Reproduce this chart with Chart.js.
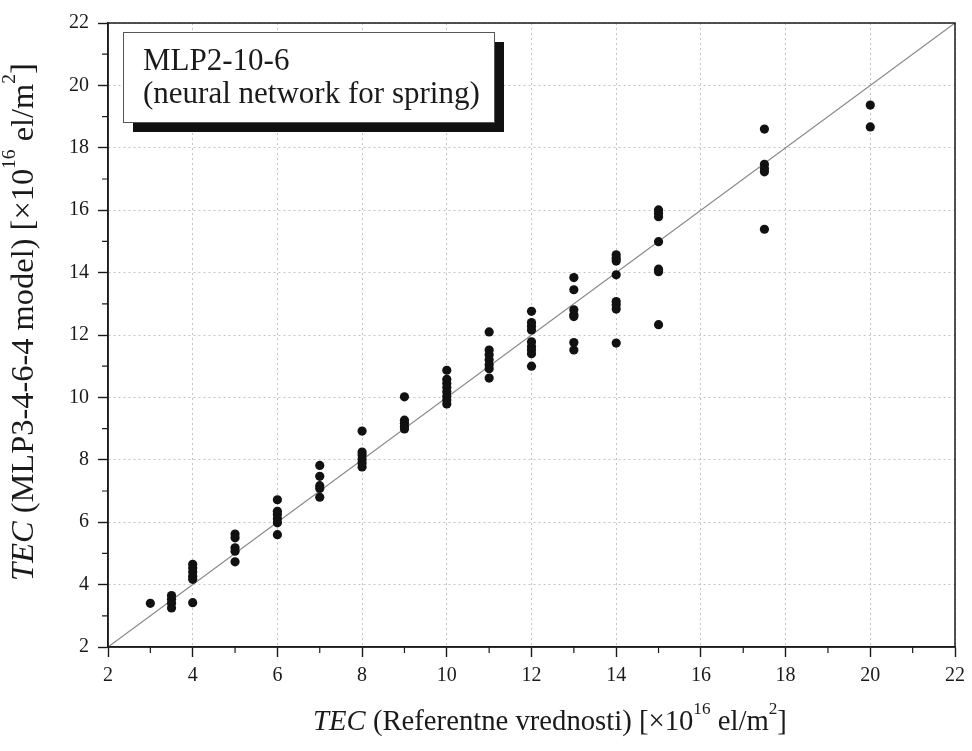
<!DOCTYPE html>
<html>
<head>
<meta charset="utf-8">
<script src="https://cdn.jsdelivr.net/npm/chart.js@4.4.1/dist/chart.umd.min.js"></script>
<style>
  html, body { margin: 0; padding: 0; background: #fff; }
  #wrap { width: 972px; height: 751px; }
</style>
</head>
<body>
<div id="wrap"><canvas id="chart" width="972" height="751"></canvas></div>
<script>
// reference TEC values (x) and model outputs at each of them (y)
const refValues = [3, 3.5, 4, 5, 6, 7, 8, 9, 10, 11, 12, 13, 14, 15, 17.5, 20];
const model3 = [3.40];
const model3_5 = [3.65, 3.53, 3.40, 3.25];
const model4 = [4.65, 4.53, 4.40, 4.27, 4.17, 3.42];
const model5 = [5.62, 5.50, 5.18, 5.07, 4.73];
const model6 = [6.72, 6.35, 6.25, 6.11, 5.98, 5.60];
const model7 = [7.82, 7.47, 7.17, 7.08, 6.80];
const model8 = [8.92, 8.25, 8.15, 8.02, 7.90, 7.77];
const model9 = [10.02, 9.27, 9.17, 9.07, 8.99];
const model10 = [10.87, 10.58, 10.45, 10.32, 10.18, 10.04, 9.92, 9.79];
const model11 = [12.10, 11.52, 11.37, 11.21, 11.05, 10.92, 10.62];
const model12 = [12.76, 12.40, 12.28, 12.16, 11.78, 11.63, 11.52, 11.40, 11.00];
const model13 = [13.84, 13.45, 12.81, 12.65, 12.59, 11.76, 11.52];
const model14 = [14.57, 14.46, 14.37, 13.93, 13.07, 12.97, 12.83, 11.74];
const model15 = [16.01, 15.90, 15.79, 14.99, 14.11, 14.03, 12.33];
const model17_5 = [18.60, 17.47, 17.34, 17.23, 15.39];
const model20 = [19.37, 18.67];
const modelValues = [model3, model3_5, model4, model5, model6, model7, model8, model9,
  model10, model11, model12, model13, model14, model15, model17_5, model20];

const idealLine = [2, 22];
const axisMin = 2, axisMax = 22, majorStep = 2;
const minorTicks = [3, 5, 7, 9, 11, 13, 15, 17, 19, 21];

const legendLines = ['MLP2-10-6', '(neural network for spring)'];
const xTitle = [{ t: 'TEC', it: true }, { t: ' (Referentne vrednosti) [×10' }, { t: '16', sup: true }, { t: ' el/m' }, { t: '2', sup: true }, { t: ']' }];
const yTitle = [{ t: 'TEC', it: true }, { t: ' (MLP3-4-6-4 model) [×10' }, { t: '16', sup: true }, { t: ' el/m' }, { t: '2', sup: true }, { t: ']' }];

const SERIF = '"Liberation Serif", "DejaVu Serif", serif';
const INK = '#1a1a1a';

const points = refValues.flatMap((x, i) => modelValues[i].map(y => ({ x, y })));

// ---- rich text helpers (italic + superscript) ----
function partFont(p, size) {
  return (p.it ? 'italic ' : '') + (p.sup ? size * 0.6 : size) + 'px ' + SERIF;
}
function richWidth(ctx, parts, size) {
  let w = 0;
  for (const p of parts) { ctx.font = partFont(p, size); w += ctx.measureText(p.t).width; }
  return w;
}
function drawRich(ctx, parts, cx, cy, targetW, rot) {
  const size = 24 * targetW / richWidth(ctx, parts, 24);
  const w = richWidth(ctx, parts, size);
  ctx.save();
  ctx.translate(cx, cy);
  if (rot) ctx.rotate(rot);
  ctx.fillStyle = INK;
  ctx.textBaseline = 'middle';
  ctx.textAlign = 'left';
  let x = -w / 2;
  for (const p of parts) {
    ctx.font = partFont(p, size);
    ctx.fillText(p.t, x, p.sup ? -size * 0.42 : 0);
    x += ctx.measureText(p.t).width;
  }
  ctx.restore();
}

const decorPlugin = {
  id: 'decor',
  afterDraw(chart) {
    const { ctx, chartArea: a, scales } = chart;
    ctx.save();
    // frame
    ctx.strokeStyle = INK;
    ctx.lineWidth = 1.5;
    ctx.strokeRect(a.left, a.top, a.right - a.left, a.bottom - a.top);
    // minor ticks
    ctx.lineWidth = 1.2;
    ctx.beginPath();
    for (const v of minorTicks) {
      const px = scales.x.getPixelForValue(v);
      ctx.moveTo(px, a.bottom); ctx.lineTo(px, a.bottom + 6);
      const py = scales.y.getPixelForValue(v);
      ctx.moveTo(a.left, py); ctx.lineTo(a.left - 6, py);
    }
    ctx.stroke();
    // legend box with shadow
    const bx = 123, by = 32, bw = 371, bh = 90;
    ctx.fillStyle = '#111';
    ctx.fillRect(bx + 10, by + 10, bw, bh);
    ctx.fillStyle = '#fff';
    ctx.fillRect(bx, by, bw, bh);
    ctx.strokeStyle = '#555';
    ctx.lineWidth = 1;
    ctx.strokeRect(bx + 0.5, by + 0.5, bw, bh);
    ctx.font = '26px ' + SERIF;
    const lsize = 26 * 337 / ctx.measureText(legendLines[1]).width;
    ctx.font = lsize + 'px ' + SERIF;
    ctx.fillStyle = INK;
    ctx.textBaseline = 'alphabetic';
    ctx.textAlign = 'left';
    ctx.fillText(legendLines[0], 143, 70);
    ctx.fillText(legendLines[1], 143, 103);
    ctx.restore();
    // axis titles
    drawRich(ctx, xTitle, 550, 722, 474, 0);
    drawRich(ctx, yTitle, 24, 322, 518, -Math.PI / 2);
  }
};

const axisCommon = {
  type: 'linear',
  min: axisMin,
  max: axisMax,
  ticks: {
    stepSize: majorStep,
    color: INK,
    font: { family: SERIF, size: 20 },
    padding: 7
  },
  grid: {
    color: '#c4c4c4',
    lineWidth: 1,
    tickColor: INK,
    tickLength: 10,
    tickWidth: 1.4
  },
  border: { color: INK, width: 1.5, dash: [2, 3] }
};

new Chart(document.getElementById('chart'), {
  data: {
    datasets: [
      {
        type: 'line',
        data: idealLine.map(v => ({ x: v, y: v })),
        borderColor: '#8a8a8a',
        borderWidth: 1.2,
        pointRadius: 0,
        fill: false,
        order: 2
      },
      {
        type: 'scatter',
        data: points,
        backgroundColor: '#111',
        borderWidth: 0,
        pointRadius: 4.6,
        order: 1
      }
    ]
  },
  options: {
    responsive: false,
    animation: false,
    layout: { padding: { left: 0, top: 23, right: 16, bottom: 0 } },
    plugins: { legend: { display: false }, tooltip: { enabled: false } },
    scales: {
      x: Object.assign({}, axisCommon, {
        position: 'bottom',
        afterFit(s) { s.height = 104; }
      }),
      y: Object.assign({}, axisCommon, {
        position: 'left',
        ticks: Object.assign({}, axisCommon.ticks, { padding: 9 }),
        afterFit(s) { s.width = 108; }
      })
    }
  },
  plugins: [decorPlugin]
});
</script>
</body>
</html>
